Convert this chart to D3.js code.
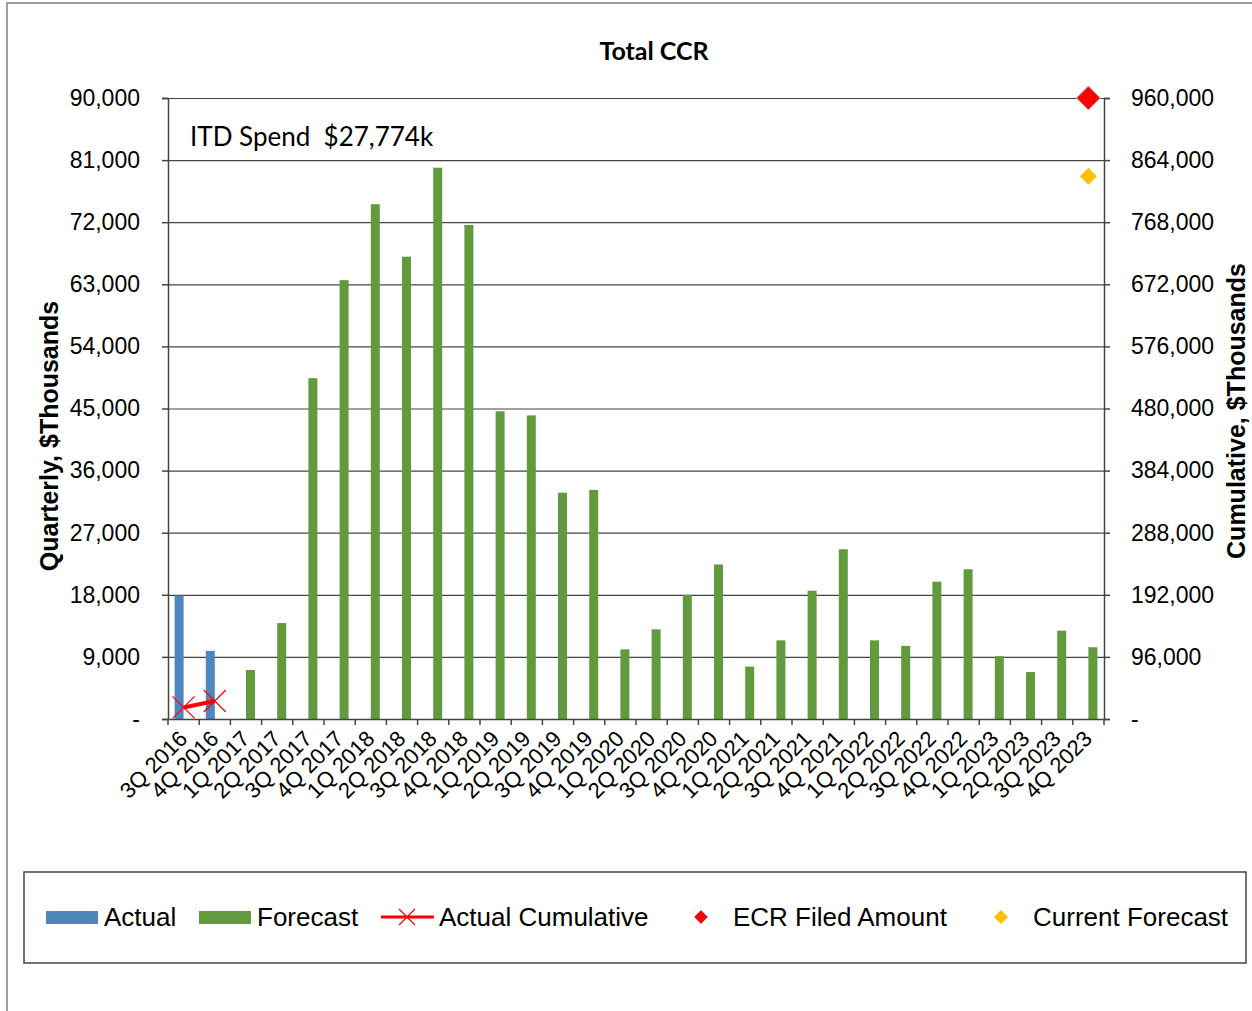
<html>
<script src="https://cdn.jsdelivr.net/npm/d3@7"></script>
<body style="margin:0">
<svg width=1252 height=1011></svg>
</body>
<script>

var quarters = ["3Q 2016","4Q 2016","1Q 2017","2Q 2017","3Q 2017","4Q 2017","1Q 2018","2Q 2018","3Q 2018","4Q 2018",
  "1Q 2019","2Q 2019","3Q 2019","4Q 2019","1Q 2020","2Q 2020","3Q 2020","4Q 2020","1Q 2021","2Q 2021",
  "3Q 2021","4Q 2021","1Q 2022","2Q 2022","3Q 2022","4Q 2022","1Q 2023","2Q 2023","3Q 2023","4Q 2023"];
var actual = [17900, 9874];
var forecast = [null, null, 7100, 13900, 49400, 63600, 74600, 67000, 79900, 71600,
  44600, 44000, 32800, 33200, 10100, 13000, 18000, 22400, 7600, 11400,
  18600, 24600, 11400, 10600, 19900, 21700, 9100, 6800, 12800, 10400];
var actualCum = [17900, 27774];
var ecrFiled = 960000;
var currentForecast = 839000;
var leftTicks = [0, 9000, 18000, 27000, 36000, 45000, 54000, 63000, 72000, 81000, 90000];
var rightTicks = [0, 96000, 192000, 288000, 384000, 480000, 576000, 672000, 768000, 864000, 960000];

var svg = d3.select("svg");
var pLeft = 168, pRight = 1104, pTop = 98, pBottom = 719;

var x = d3.scaleBand().domain(quarters).range([pLeft, pRight]).padding(0);
var y = d3.scaleLinear().domain([0, 90000]).range([pBottom, pTop]);
var y2 = d3.scaleLinear().domain([0, 960000]).range([pBottom, pTop]);
var fmt = function(d) { return d === 0 ? "-" : d3.format(",")(d); };
var cx = function(q) { return x(q) + x.bandwidth()/2; };

// outer chart border
svg.append("rect").attr("x",7).attr("y",3).attr("width",1260).attr("height",1020)
  .attr("fill","white").attr("stroke","#7f7f7f").attr("stroke-width",1.5);

// gridlines
svg.append("g").selectAll("line").data(leftTicks).enter().append("line")
  .attr("x1",pLeft).attr("x2",pRight).attr("y1",d=>y(d)+0.5).attr("y2",d=>y(d)+0.5)
  .attr("stroke","#444").attr("stroke-width",1.2);

// bars
var bw = 9;
var actualRows = actual.map((v,i)=>({q:quarters[i], v:v}));
var forecastRows = forecast.map((v,i)=>({q:quarters[i], v:v})).filter(d=>d.v!==null);
svg.append("g").selectAll("rect").data(actualRows).enter().append("rect")
  .attr("x",d=>cx(d.q)-bw).attr("width",bw)
  .attr("y",d=>y(d.v)).attr("height",d=>pBottom-y(d.v)).attr("fill","#4f86bd");
svg.append("g").selectAll("rect").data(forecastRows).enter().append("rect")
  .attr("x",d=>cx(d.q)).attr("width",bw)
  .attr("y",d=>y(d.v)).attr("height",d=>pBottom-y(d.v)).attr("fill","#629a3e");

// axes
var yAxisL = d3.axisLeft(y).tickValues(leftTicks).tickFormat(fmt).tickSize(6).tickPadding(22);
var yAxisR = d3.axisRight(y2).tickValues(rightTicks).tickFormat(fmt).tickSize(6).tickPadding(21);
var gl = svg.append("g").attr("transform","translate("+pLeft+",0)").call(yAxisL);
var gr = svg.append("g").attr("transform","translate("+pRight+",0)").call(yAxisR);
[gl, gr].forEach(function(g) {
  g.selectAll("path,line").attr("stroke","#444").attr("stroke-width",1.5);
  g.selectAll("text").attr("font-family","Liberation Sans, Arial").attr("font-size",23).attr("fill","#000");
});
gr.selectAll("text").attr("text-anchor","start");

var xAxis = d3.axisBottom(x).tickSize(0);
var gx = svg.append("g").attr("transform","translate(0,"+pBottom+")").call(xAxis);
gx.select("path").attr("stroke","#444").attr("stroke-width",1.5);
gx.selectAll("text").attr("font-family","Liberation Sans, Arial").attr("font-size",22).attr("fill","#000")
  .attr("text-anchor","end").attr("dy",0).attr("y",0)
  .attr("transform","translate(5,21) rotate(-45)");
// tick marks at category boundaries
svg.append("g").selectAll("line").data(quarters.concat([null])).enter().append("line")
  .attr("x1",(d,i)=>pLeft+i*x.bandwidth()).attr("x2",(d,i)=>pLeft+i*x.bandwidth())
  .attr("y1",pBottom).attr("y2",pBottom+6).attr("stroke","#444").attr("stroke-width",1.5);

// actual cumulative line
var line = d3.line().x((d,i)=>cx(quarters[i])).y(d=>y2(d));
svg.append("path").datum(actualCum).attr("d",line).attr("fill","none")
  .attr("stroke","#ff0000").attr("stroke-width",4);
function xMark(g, px, py, s) {
  g.append("path").attr("d","M"+(px-s)+","+(py-s)+"L"+(px+s)+","+(py+s)+"M"+(px-s)+","+(py+s)+"L"+(px+s)+","+(py-s))
    .attr("stroke","#ff0000").attr("stroke-width",1.2).attr("fill","none");
}
actualCum.forEach(function(d,i){ xMark(svg, cx(quarters[i]), y2(d), 11); });

// diamonds
function diamond(px, py, r, fill, stroke) {
  svg.append("path").attr("d","M"+px+","+(py-r)+"L"+(px+r)+","+py+"L"+px+","+(py+r)+"L"+(px-r)+","+py+"Z")
    .attr("fill",fill).attr("stroke",stroke||"none").attr("stroke-width",1);
}
diamond(cx(quarters[29]), y2(ecrFiled), 12, "#ff0000", "#9dc3e6");
diamond(cx(quarters[29]), y2(currentForecast), 8.5, "#ffc000");

// titles
svg.append("text").attr("x",654).attr("y",60).attr("text-anchor","middle")
  .attr("font-family","Lato, Open Sans").attr("font-weight","bold").attr("font-size",25).text("Total CCR");
svg.append("text").attr("x",190).attr("y",146).attr("font-family","Lato, Open Sans")
  .attr("font-size",26).style("white-space","pre").text("ITD Spend  $27,774k");
svg.append("text").attr("transform","translate(58,436) rotate(-90)").attr("text-anchor","middle")
  .attr("font-family","Liberation Sans, Arial").attr("font-weight","bold").attr("font-size",25).text("Quarterly, $Thousands");
svg.append("text").attr("transform","translate(1245,411) rotate(-90)").attr("text-anchor","middle")
  .attr("font-family","Liberation Sans, Arial").attr("font-weight","bold").attr("font-size",25).text("Cumulative, $Thousands");

// legend
svg.append("rect").attr("x",24).attr("y",872).attr("width",1222).attr("height",91)
  .attr("fill","white").attr("stroke","#444").attr("stroke-width",1.5);
var lg = svg.append("g").attr("font-family","Liberation Sans, Arial").attr("font-size",26);
var ly = 917;
lg.append("rect").attr("x",46).attr("y",ly-6).attr("width",52).attr("height",13).attr("fill","#4f86bd");
lg.append("text").attr("x",104).attr("y",ly+9).text("Actual");
lg.append("rect").attr("x",199).attr("y",ly-6).attr("width",52).attr("height",13).attr("fill","#629a3e");
lg.append("text").attr("x",257).attr("y",ly+9).text("Forecast");
lg.append("line").attr("x1",381).attr("x2",434).attr("y1",ly).attr("y2",ly).attr("stroke","#ff0000").attr("stroke-width",3);
xMark(lg, 407, ly, 8);
lg.append("text").attr("x",439).attr("y",ly+9).text("Actual Cumulative");
diamond(701, ly, 7, "#ff0000", "#9dc3e6");
lg.append("text").attr("x",733).attr("y",ly+9).text("ECR Filed Amount");
diamond(1001, ly, 7, "#ffc000");
lg.append("text").attr("x",1033).attr("y",ly+9).text("Current Forecast");

</script>
</html>
